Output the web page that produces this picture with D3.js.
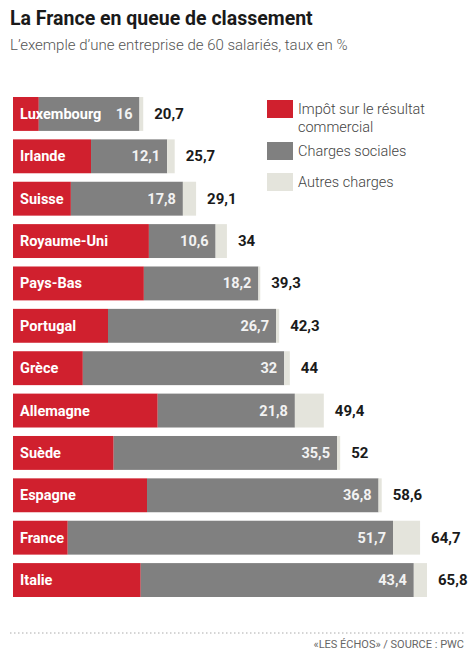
<!DOCTYPE html>
<html><head><meta charset="utf-8">
<script src="https://cdn.jsdelivr.net/npm/d3@7"></script>
<style>body{margin:0;background:#fff}text{font-family:Roboto,"Liberation Sans",sans-serif}</style>
</head><body><svg id="c" width="474" height="652"></svg>
<script>
var countries = ['Luxembourg','Irlande','Suisse','Royaume-Uni','Pays-Bas','Portugal','Grèce','Allemagne','Suède','Espagne','France','Italie'];
var impot = [4.1,12.4,9.2,21.6,20.8,15.1,11.1,23,16,21.3,8.7,20.3];
var sociales = [16,12.1,17.8,10.6,18.2,26.7,32,21.8,35.5,36.8,51.7,43.4];
var totals = [20.7,25.7,29.1,34,39.3,42.3,44,49.4,52,58.6,64.7,65.8];
var seriesNames = ['Impôt sur le résultat|commercial','Charges sociales','Autres charges'];
var colors = ['#d0202e','#808080','#e4e4dc'];

var svg = d3.select('#c');
var fmt = function(v){ return String(v).replace('.', ','); };

svg.append('text').attr('x',10).attr('y',25).attr('font-size',19.5).attr('font-weight','bold').attr('fill','#1a1a1a').text('La France en queue de classement');
svg.append('text').attr('x',10).attr('y',50).attr('font-size',15).attr('font-weight',300).attr('fill','#555').text('L\u2019exemple d\u2019une entreprise de 60 salariés, taux en %');

var x = d3.scaleLinear().domain([0,65.8]).range([13,427]);
var y = d3.scaleBand().domain(countries).range([97,597]).paddingInner(0.2).paddingOuter(0);

var rows = svg.selectAll('g.row').data(countries).enter().append('g').attr('class','row');
rows.each(function(c,i){
	var g = d3.select(this), top = y(c), h = y.bandwidth();
	var segs = [[0,impot[i]],[impot[i],impot[i]+sociales[i]],[impot[i]+sociales[i],totals[i]]];
	segs.forEach(function(s,j){
		g.append('rect').attr('x',x(s[0])).attr('y',top).attr('width',Math.max(0,x(s[1])-x(s[0]))).attr('height',h).attr('fill',colors[j]);
	});
	g.append('text').attr('x',20).attr('y',top+h/2+5).attr('font-size',14.5).attr('font-weight','bold').attr('fill','#fff').text(c);
	g.append('text').attr('x',x(impot[i]+sociales[i])-7).attr('y',top+h/2+5).attr('text-anchor','end').attr('font-size',14.5).attr('font-weight','bold').attr('fill','#f2f2f2').text(fmt(sociales[i]));
	g.append('text').attr('x',x(totals[i])+11).attr('y',top+h/2+5).attr('font-size',15).attr('font-weight','bold').attr('fill','#1a1a1a').text(fmt(totals[i]));
});

var legY = [100,142,173];
seriesNames.forEach(function(n,j){
	svg.append('rect').attr('x',267).attr('y',legY[j]).attr('width',26).attr('height',18).attr('fill',colors[j]);
	n.split('|').forEach(function(line,k){
		svg.append('text').attr('x',298).attr('y',legY[j]+14+k*18).attr('font-size',14.5).attr('font-weight',300).attr('fill','#444').text(line);
	});
});

svg.append('line').attr('x1',10).attr('x2',464).attr('y1',633).attr('y2',633).attr('stroke','#aaa').attr('stroke-dasharray','1.5,2.5');
svg.append('text').attr('x',464).attr('y',648).attr('text-anchor','end').attr('font-size',11).attr('fill','#666').text('\u00abLES ÉCHOS\u00bb  / SOURCE : PWC');
</script></body></html>
